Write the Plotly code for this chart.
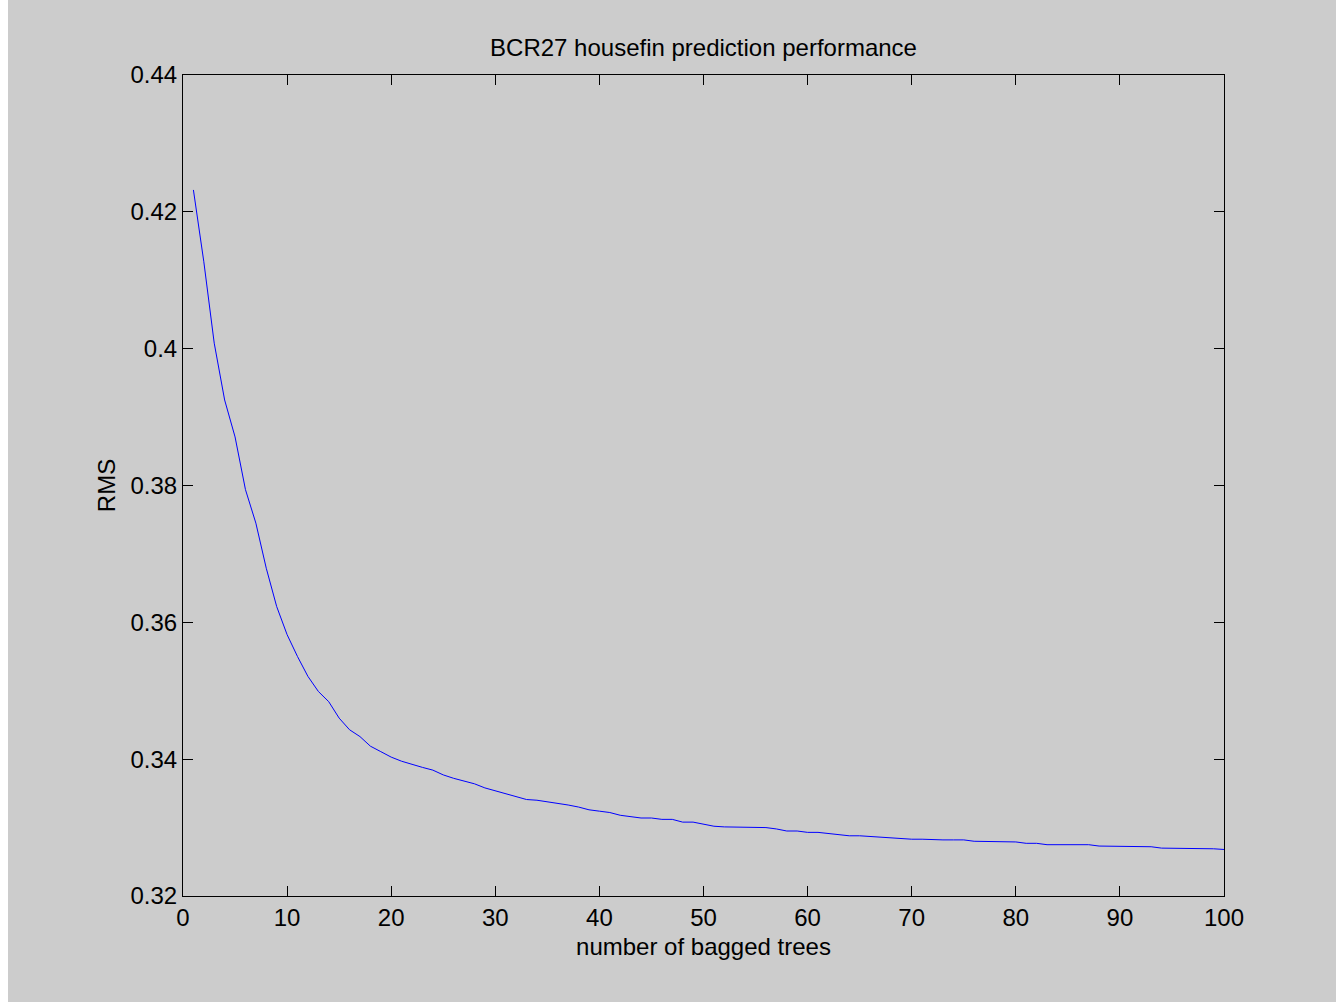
import plotly.graph_objects as go

trees = list(range(1, 101))
rms = [
    0.4232, 0.4127, 0.4008, 0.3925, 0.3871, 0.3794, 0.3745, 0.3679, 0.3623, 0.3582,
    0.3550, 0.3521, 0.3499, 0.3484, 0.3460, 0.3443, 0.3433, 0.3419, 0.3411, 0.3403,
    0.3397, 0.3392, 0.3388, 0.3384, 0.3377, 0.3372, 0.3368, 0.3364, 0.3358, 0.3354,
    0.3349, 0.3345, 0.3341, 0.3340, 0.3338, 0.3336, 0.3333, 0.3330, 0.3326, 0.3324,
    0.3322, 0.3318, 0.3316, 0.3314, 0.3314, 0.3312, 0.3312, 0.3308, 0.3308, 0.3305,
    0.3302, 0.3301, 0.3301, 0.3300, 0.3300, 0.3300, 0.3298, 0.3295, 0.3295, 0.3293,
    0.3293, 0.3291, 0.3290, 0.3288, 0.3288, 0.3287, 0.3286, 0.3285, 0.3283, 0.3283,
    0.3283, 0.3282, 0.3282, 0.3282, 0.3282, 0.3280, 0.3280, 0.3280, 0.3279, 0.3279,
    0.3277, 0.3277, 0.3275, 0.3275, 0.3275, 0.3275, 0.3275, 0.3273, 0.3273, 0.3272,
    0.3272, 0.3272, 0.3272, 0.3270, 0.3270, 0.3270, 0.3270, 0.3269, 0.3269, 0.3268,
]

x_ticks = [0, 10, 20, 30, 40, 50, 60, 70, 80, 90, 100]
y_ticks = [0.32, 0.34, 0.36, 0.38, 0.40, 0.42, 0.44]
y_tick_labels = ["0.32", "0.34", "0.36", "0.38", "0.4", "0.42", "0.44"]

W, H = 1336, 1002
L, R, T, B = 183, 112, 75, 106
pw, ph = W - L - R, H - T - B

font = "Liberation Sans, Arial, Helvetica, sans-serif"
FS = 24

fig = go.Figure(go.Scatter(x=trees, y=rms, mode="lines",
                           line=dict(color="#0000ff", width=1), showlegend=False))

axis_common = dict(showline=True, linecolor="black", linewidth=1, mirror="ticks",
                   ticks="inside", ticklen=10, tickcolor="black", tickwidth=1,
                   showgrid=False, zeroline=False,
                   tickfont=dict(family=font, size=FS, color="black"))

fig.update_xaxes(range=[0, 100], tickmode="array", tickvals=x_ticks,
                 title=dict(text="number of bagged trees", font=dict(family=font, size=FS, color="black"), standoff=8),
                 **axis_common)
fig.update_yaxes(range=[0.32, 0.44], tickmode="array", tickvals=y_ticks, ticktext=y_tick_labels,
                 title=dict(text="RMS", font=dict(family=font, size=FS, color="black"), standoff=8),
                 **axis_common)

fig.add_shape(type="rect", xref="paper", yref="paper",
              x0=-L / pw - 0.01, x1=(8 - L) / pw, y0=-B / ph - 0.05, y1=1 + T / ph + 0.05,
              fillcolor="white", line=dict(width=0), layer="below")

fig.update_layout(
    width=W, height=H,
    margin=dict(l=L, r=R, t=T, b=B, autoexpand=False),
    paper_bgcolor="#cccccc", plot_bgcolor="#cccccc",
    title=dict(text="BCR27 housefin prediction performance", x=(L + pw / 2) / W, xanchor="center",
               y=1 - 48 / H, yanchor="middle", yref="container",
               font=dict(family=font, size=FS, color="black")),
)

fig.write_html("out.html", config={"displayModeBar": False},
               post_script="document.body.style.margin='0';document.body.style.overflow='hidden';")
